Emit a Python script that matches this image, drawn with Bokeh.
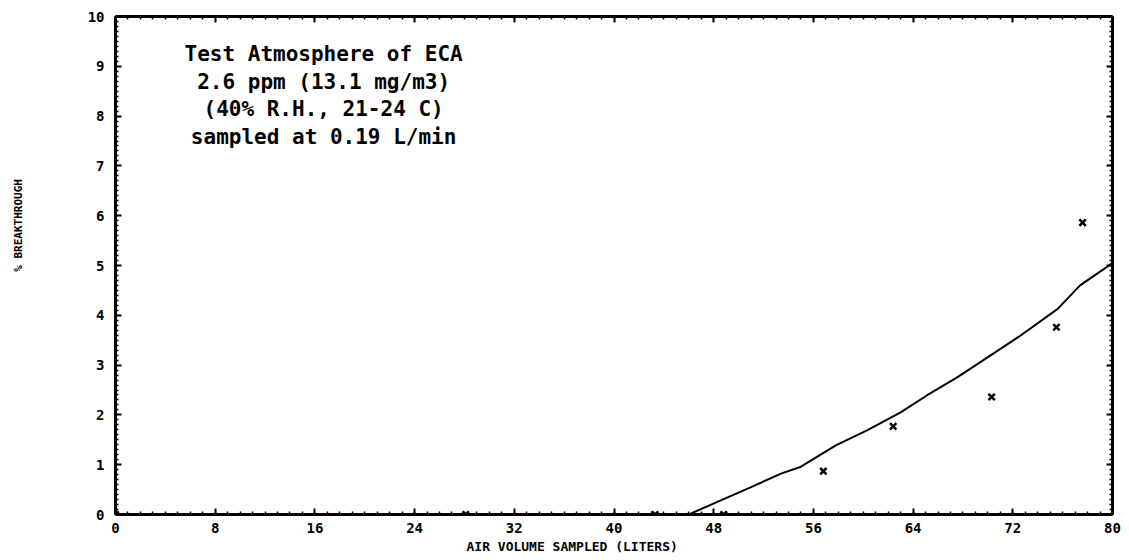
import math
from bokeh.plotting import figure
from bokeh.layouts import row
from bokeh.models import (LinearAxis, FixedTicker, Label, Range1d, Title,
                          CustomJSTickFormatter)
from bokeh.core.properties import value
from bokeh.embed import file_html
from bokeh.resources import INLINE

# ---- data ----
sample_volume = [0.0, 28.1, 43.3, 48.8, 56.8, 62.4, 70.3, 75.5, 77.6]
breakthrough = [0.0, 0.0, 0.0, 0.0, 0.87, 1.77, 2.36, 3.76, 5.86]

fit_volume = [46.0, 48.8, 51.0, 53.4, 55.0, 57.8, 60.3, 63.0, 65.1, 67.5,
              69.4, 72.6, 75.6, 77.4, 80.0]
fit_breakthrough = [0.0, 0.31, 0.55, 0.82, 0.96, 1.39, 1.69, 2.05, 2.39, 2.75,
                    3.06, 3.59, 4.13, 4.60, 5.05]

x_ticks = [0, 8, 16, 24, 32, 40, 48, 56, 64, 72, 80]
x_minor_ticks = list(range(0, 81))
y_ticks = [0, 1, 2, 3, 4, 5, 6, 7, 8, 9, 10]
y_minor_ticks = [i / 10 for i in range(0, 101)]

info_lines = [
    "Test Atmosphere of ECA",
    "2.6 ppm (13.1 mg/m3)",
    "(40% R.H., 21-24 C)",
    "sampled at 0.19 L/min",
]
x_title = "AIR VOLUME SAMPLED (LITERS)"
y_title = "% BREAKTHROUGH"

FONT = "DejaVu Sans Mono"

# narrow strip on the left carrying the y-axis title
side = figure(width=40, height=560, output_backend="svg", toolbar_location=None,
              x_range=Range1d(0, 40), y_range=Range1d(0, 560),
              x_axis_location=None, y_axis_location=None,
              min_border=0)
side.outline_line_color = None
side.grid.visible = False
side.text(x=[18], y=[325], text=[y_title], angle=math.pi / 2,
          text_align="center", text_baseline="middle",
          text_font=value(FONT), text_font_style="bold",
          text_font_size="11px", text_color="black")

p = figure(width=1089, height=560, output_backend="svg", toolbar_location=None,
           x_range=Range1d(0, 80), y_range=Range1d(0, 10),
           x_axis_location=None, y_axis_location=None,
           min_border_left=75, min_border_right=17,
           min_border_top=16, min_border_bottom=46)
p.outline_line_color = None
p.background_fill_color = "white"
p.border_fill_color = "white"


def style_axis(ax, labels=True):
    ax.axis_line_width = 3
    ax.axis_line_color = "black"
    ax.major_tick_in = 6
    ax.major_tick_out = 0
    ax.minor_tick_in = 3
    ax.minor_tick_out = 0
    ax.major_tick_line_width = 2
    ax.minor_tick_line_width = 1.5
    ax.major_tick_line_color = "black"
    ax.minor_tick_line_color = "black"
    ax.major_label_text_font = FONT
    ax.major_label_text_font_style = "bold"
    ax.major_label_text_font_size = "14px"
    ax.major_label_text_color = "black"
    if not labels:
        ax.formatter = CustomJSTickFormatter(code="return '';")
        ax.major_label_standoff = 0


xb = LinearAxis(ticker=FixedTicker(ticks=x_ticks, minor_ticks=x_minor_ticks))
style_axis(xb)
xb.major_label_standoff = 8
p.add_layout(xb, "below")

xt = LinearAxis(ticker=FixedTicker(ticks=x_ticks, minor_ticks=x_minor_ticks))
style_axis(xt, labels=False)
p.add_layout(xt, "above")

yl = LinearAxis(ticker=FixedTicker(ticks=y_ticks, minor_ticks=y_minor_ticks))
style_axis(yl)
yl.major_label_standoff = 11
p.add_layout(yl, "left")

yr = LinearAxis(ticker=FixedTicker(ticks=y_ticks, minor_ticks=y_minor_ticks))
style_axis(yr, labels=False)
p.add_layout(yr, "right")

p.grid.visible = False

p.line(fit_volume, fit_breakthrough, line_color="black", line_width=2)
p.scatter(sample_volume, breakthrough, marker="x", size=9,
          line_color="black", line_width=2.5)

line_y = [9.24, 8.68, 8.15, 7.59]
for txt, yy in zip(info_lines, line_y):
    p.add_layout(Label(x=16.7, y=yy, text=txt, text_align="center",
                       text_baseline="middle", text_font=FONT,
                       text_font_style="bold", text_font_size="21px",
                       text_color="black"))

p.add_layout(Title(text=x_title, align="left", offset=351, standoff=2,
                   text_font=FONT, text_font_style="bold",
                   text_font_size="13px", text_color="black"), "below")

layout = row(side, p, spacing=0)
open("out.html", "w").write(file_html(layout, INLINE))
